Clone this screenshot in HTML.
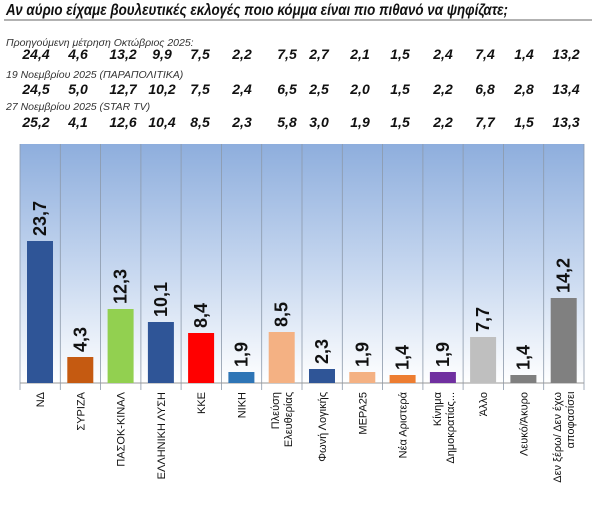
<!DOCTYPE html>
<html><head><meta charset="utf-8"><style>
body{margin:0;background:#fff;width:600px;height:505px;overflow:hidden}
svg{display:block}
text{font-family:"Liberation Sans","DejaVu Sans",sans-serif}
</style></head><body>
<svg width="600" height="505" viewBox="0 0 600 505" xmlns="http://www.w3.org/2000/svg">
<defs><linearGradient id="g" x1="0" y1="0" x2="0" y2="1">
<stop offset="0" stop-color="#8eaedd"/><stop offset="0.55" stop-color="#c9d9f0"/><stop offset="1" stop-color="#ffffff"/></linearGradient></defs>
<text x="6" y="15" font-size="16" font-style="italic" font-weight="bold" fill="#111" textLength="502" lengthAdjust="spacingAndGlyphs">Αν αύριο είχαμε βουλευτικές εκλογές ποιο κόμμα είναι πιο πιθανό να ψηφίζατε;</text>
<line x1="4" y1="20" x2="592" y2="20" stroke="#999" stroke-width="1.5"/>
<g font-size="10.5" font-style="italic" fill="#333">
<text x="6" y="46">Προηγούμενη μέτρηση Οκτώβριος 2025:</text>
<text x="6" y="78">19 Νοεμβρίου 2025 (ΠΑΡΑΠΟΛΙΤΙΚΑ)</text>
<text x="6" y="110">27 Νοεμβρίου 2025 (STAR TV)</text>
</g>
<g font-size="14" font-style="italic" font-weight="bold" fill="#111" text-anchor="middle">
<g transform="translate(0,59)">
<text x="36">24,4</text><text x="78">4,6</text><text x="123">13,2</text><text x="162">9,9</text><text x="200">7,5</text><text x="242">2,2</text><text x="287">7,5</text><text x="319">2,7</text><text x="360">2,1</text><text x="400">1,5</text><text x="443">2,4</text><text x="485">7,4</text><text x="524">1,4</text><text x="566">13,2</text></g>
<g transform="translate(0,94)">
<text x="36">24,5</text><text x="78">5,0</text><text x="123">12,7</text><text x="162">10,2</text><text x="200">7,5</text><text x="242">2,4</text><text x="287">6,5</text><text x="319">2,5</text><text x="360">2,0</text><text x="400">1,5</text><text x="443">2,2</text><text x="485">6,8</text><text x="524">2,8</text><text x="566">13,4</text></g>
<g transform="translate(0,127)">
<text x="36">25,2</text><text x="78">4,1</text><text x="123">12,6</text><text x="162">10,4</text><text x="200">8,5</text><text x="242">2,3</text><text x="287">5,8</text><text x="319">3,0</text><text x="360">1,9</text><text x="400">1,5</text><text x="443">2,2</text><text x="485">7,7</text><text x="524">1,5</text><text x="566">13,3</text></g>
</g>
<rect x="20" y="144" width="564" height="239" fill="url(#g)"/>
<g stroke="#8c99aa" stroke-width="0.8">
<line x1="60.3" y1="144" x2="60.3" y2="390"/><line x1="100.6" y1="144" x2="100.6" y2="390"/><line x1="140.9" y1="144" x2="140.9" y2="390"/><line x1="181.1" y1="144" x2="181.1" y2="390"/><line x1="221.4" y1="144" x2="221.4" y2="390"/><line x1="261.7" y1="144" x2="261.7" y2="390"/><line x1="302" y1="144" x2="302" y2="390"/><line x1="342.3" y1="144" x2="342.3" y2="390"/><line x1="382.6" y1="144" x2="382.6" y2="390"/><line x1="422.9" y1="144" x2="422.9" y2="390"/><line x1="463.1" y1="144" x2="463.1" y2="390"/><line x1="503.4" y1="144" x2="503.4" y2="390"/><line x1="543.7" y1="144" x2="543.7" y2="390"/>
<line x1="20" y1="144" x2="20" y2="390"/><line x1="584" y1="144" x2="584" y2="390"/>
</g>
<line x1="20" y1="383" x2="584" y2="383" stroke="#999" stroke-width="1"/>
<g>
<rect x="27" y="241" width="26" height="142" fill="#2f5597"/>
<rect x="67.3" y="357" width="26" height="26" fill="#c55a11"/>
<rect x="107.6" y="309" width="26" height="74" fill="#92d050"/>
<rect x="147.9" y="322" width="26" height="61" fill="#2f5597"/>
<rect x="188.1" y="333" width="26" height="50" fill="#ff0000"/>
<rect x="228.4" y="372" width="26" height="11" fill="#2e75b6"/>
<rect x="268.7" y="332" width="26" height="51" fill="#f4b183"/>
<rect x="309" y="369" width="26" height="14" fill="#2f5597"/>
<rect x="349.3" y="372" width="26" height="11" fill="#f4b183"/>
<rect x="389.6" y="375" width="26" height="8" fill="#ed7d31"/>
<rect x="429.9" y="372" width="26" height="11" fill="#7030a0"/>
<rect x="470.1" y="337" width="26" height="46" fill="#bfbfbf"/>
<rect x="510.4" y="375" width="26" height="8" fill="#7f7f7f"/>
<rect x="550.7" y="298" width="26" height="85" fill="#808080"/>
</g>
<g font-size="18" font-weight="bold" fill="#111">
<text transform="translate(46,236) rotate(-90)">23,7</text>
<text transform="translate(86.3,352) rotate(-90)">4,3</text>
<text transform="translate(126.6,304) rotate(-90)">12,3</text>
<text transform="translate(166.9,317) rotate(-90)">10,1</text>
<text transform="translate(207.1,328) rotate(-90)">8,4</text>
<text transform="translate(247.4,367) rotate(-90)">1,9</text>
<text transform="translate(287.7,327) rotate(-90)">8,5</text>
<text transform="translate(328,364) rotate(-90)">2,3</text>
<text transform="translate(368.3,367) rotate(-90)">1,9</text>
<text transform="translate(408.6,370) rotate(-90)">1,4</text>
<text transform="translate(448.9,367) rotate(-90)">1,9</text>
<text transform="translate(489.1,332) rotate(-90)">7,7</text>
<text transform="translate(529.4,370) rotate(-90)">1,4</text>
<text transform="translate(569.7,293) rotate(-90)">14,2</text>
</g>
<g font-size="11" fill="#111" text-anchor="end">
<text transform="translate(44,392) rotate(-90)">ΝΔ</text>
<text transform="translate(84.3,392) rotate(-90)">ΣΥΡΙΖΑ</text>
<text transform="translate(124.6,392) rotate(-90)">ΠΑΣΟΚ-ΚΙΝΑΛ</text>
<text transform="translate(164.9,392) rotate(-90)">ΕΛΛΗΝΙΚΗ ΛΥΣΗ</text>
<text transform="translate(205.1,392) rotate(-90)">ΚΚΕ</text>
<text transform="translate(245.4,392) rotate(-90)">ΝΙΚΗ</text>
<text transform="translate(279,392) rotate(-90)">Πλεύση</text>
<text transform="translate(292,392) rotate(-90)">Ελευθερίας</text>
<text transform="translate(326,392) rotate(-90)">Φωνή Λογικής</text>
<text transform="translate(366.3,392) rotate(-90)">ΜΕΡΑ25</text>
<text transform="translate(406.6,392) rotate(-90)">Νέα Αριστερά</text>
<text transform="translate(441,392) rotate(-90)">Κίνημα</text>
<text transform="translate(454,392) rotate(-90)">Δημοκρατίας...</text>
<text transform="translate(487.1,392) rotate(-90)">Άλλο</text>
<text transform="translate(527.4,392) rotate(-90)">Λευκό/Άκυρο</text>
<text transform="translate(561,392) rotate(-90)">Δεν ξέρω/ Δεν έχω</text>
<text transform="translate(574,392) rotate(-90)" text-anchor="middle" dx="-28">αποφασίσει</text>
</g>
</svg>
</body></html>
